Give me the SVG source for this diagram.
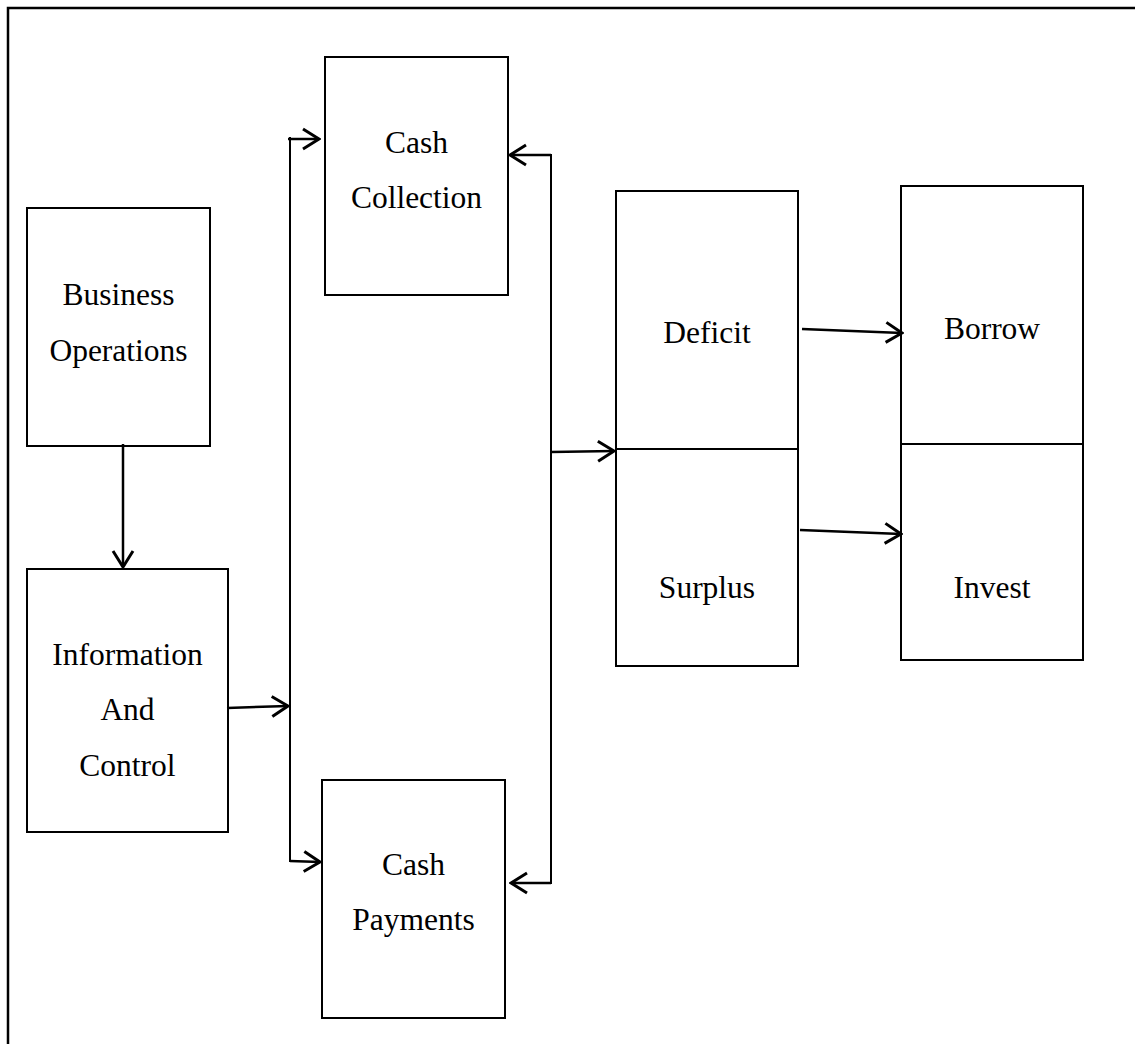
<svg xmlns="http://www.w3.org/2000/svg" width="1135" height="1044" viewBox="0 0 1135 1044">
<defs>
<style>
.box{fill:#fff;stroke:#000;stroke-width:2}
.lbl{font-family:"Liberation Serif","Times New Roman",serif;font-size:31.5px;fill:#000;text-anchor:middle}
.con{fill:none;stroke:#000;stroke-width:2.5}
.bar{fill:none;stroke:#000;stroke-width:2}
</style>
<marker id="ah" viewBox="0 0 20 24" refX="18" refY="12" markerWidth="20" markerHeight="24" markerUnits="userSpaceOnUse" orient="auto">
<path d="M2,2 L18,12 L2,22" fill="none" stroke="#000" stroke-width="3"/>
</marker>
</defs>
<rect x="8" y="8" width="1140" height="1050" fill="none" stroke="#000" stroke-width="2.5"/>
<g id="business-operations">
<rect class="box" x="27" y="208" width="183" height="238"/>
<text class="lbl" x="118.5" y="305">Business</text>
<text class="lbl" x="118.5" y="361">Operations</text>
</g>
<g id="information-and-control">
<rect class="box" x="27" y="569" width="201" height="263"/>
<text class="lbl" x="127.5" y="665">Information</text>
<text class="lbl" x="127.5" y="720">And</text>
<text class="lbl" x="127.5" y="776">Control</text>
</g>
<g id="cash-collection">
<rect class="box" x="325" y="57" width="183" height="238"/>
<text class="lbl" x="416.5" y="153">Cash</text>
<text class="lbl" x="416.5" y="208">Collection</text>
</g>
<g id="cash-payments">
<rect class="box" x="322" y="780" width="183" height="238"/>
<text class="lbl" x="413.5" y="875">Cash</text>
<text class="lbl" x="413.5" y="930">Payments</text>
</g>
<g id="deficit">
<rect class="box" x="616" y="191" width="182" height="258"/>
<text class="lbl" x="707" y="343">Deficit</text>
</g>
<g id="surplus">
<rect class="box" x="616" y="449" width="182" height="217"/>
<text class="lbl" x="707" y="598">Surplus</text>
</g>
<g id="borrow">
<rect class="box" x="901" y="186" width="182" height="258"/>
<text class="lbl" x="992" y="339">Borrow</text>
</g>
<g id="invest">
<rect class="box" x="901" y="444" width="182" height="216"/>
<text class="lbl" x="992" y="598">Invest</text>
</g>
<g id="connectors">
<path class="con" d="M123,444 L123,567" marker-end="url(#ah)"/>
<path class="con" d="M227,708 L288,706" marker-end="url(#ah)"/>
<path class="bar" d="M290,137 L290,862"/>
<path class="con" d="M288,139 L319,139" marker-end="url(#ah)"/>
<path class="con" d="M290,861 L320,862" marker-end="url(#ah)"/>
<path class="bar" d="M510,155 L551,155 L551,883 L511,883"/>
<path class="con" d="M551,155 L510,155" marker-end="url(#ah)"/>
<path class="con" d="M551,883 L511,883" marker-end="url(#ah)"/>
<path class="con" d="M551,452 L614,451" marker-end="url(#ah)"/>
<path class="con" d="M802,329 L902,333" marker-end="url(#ah)"/>
<path class="con" d="M800,530 L901,534" marker-end="url(#ah)"/>
</g>
</svg>
